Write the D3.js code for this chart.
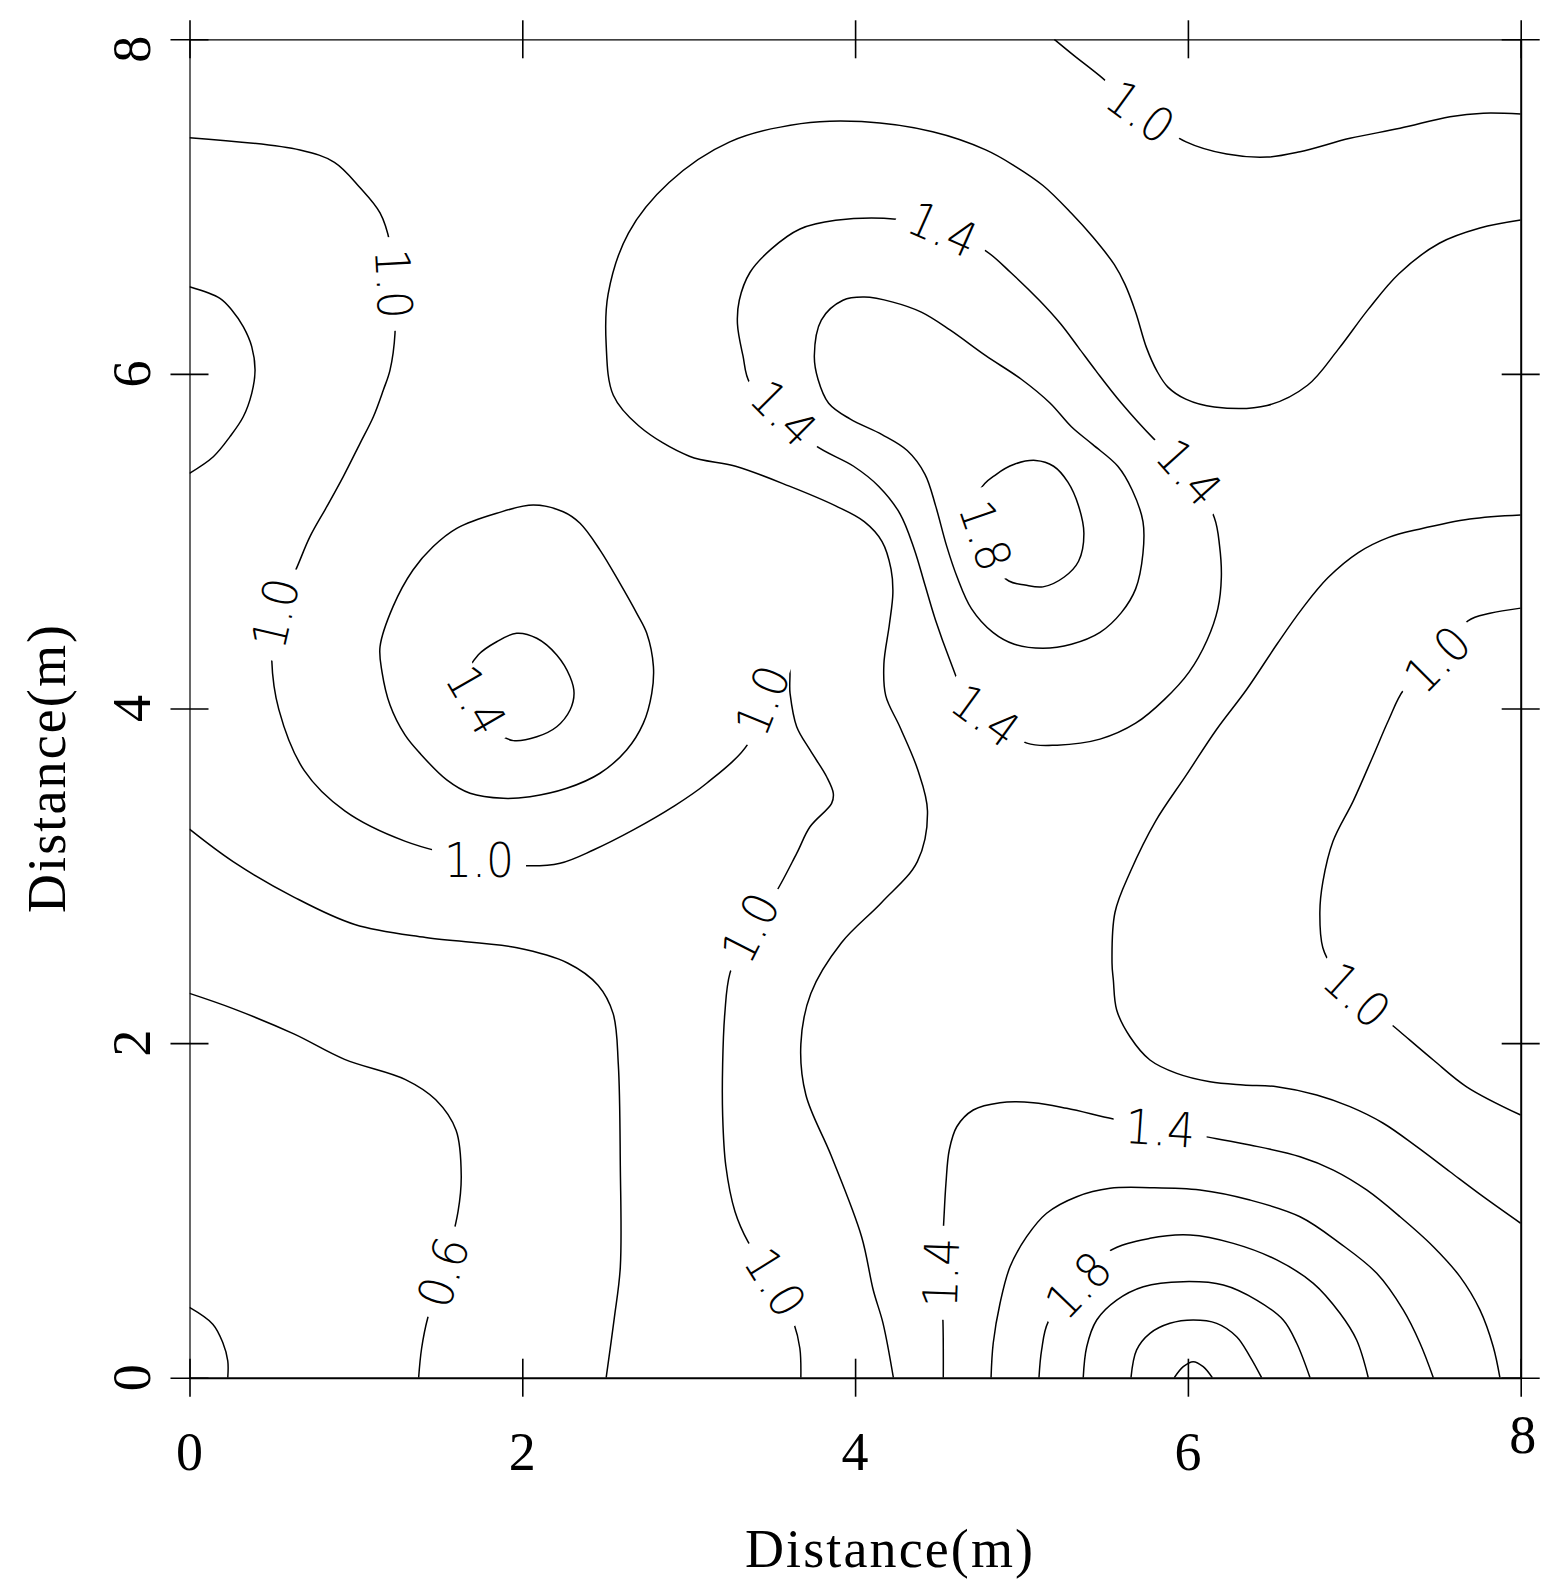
<!DOCTYPE html>
<html>
<head>
<meta charset="utf-8">
<script src="https://cdn.jsdelivr.net/npm/d3@7"></script>
<style>
  body { margin: 0; background: #fff; }
  .axis path, .axis line { stroke: #000; }
  .contour { fill: none; stroke: #000; stroke-width: 1.5; }
  .clabel { font-family: 'DejaVu Sans', sans-serif; font-weight: 200; font-size: 48px; fill: #000; }
  .tick-label { font-family: 'Liberation Serif', serif; font-size: 54px; fill: #000; }
  .axis-title { font-family: 'Liberation Serif', serif; font-size: 54px; fill: #000; }
</style>
</head>
<body>
<svg id="chart"></svg>
<script>
// tick values and titles
const xTicks = [0, 2, 4, 6, 8];
const yTicks = [0, 2, 4, 6, 8];
const xTitle = 'Distance(m)';
const yTitle = 'Distance(m)';

// contour lines, points as [x (m), y (m)]
const line04 = [[0,0.42],[0.14,0.32],[0.2,0.21],[0.23,0.1],[0.23,0]];
const line06 = [[0,2.297],[0.262,2.206],[0.627,2.055],[0.932,1.903],[1.298,1.782],[1.48,1.661],[1.602,1.479],[1.633,1.206],[1.614,0.994],[1.523,0.631],[1.432,0.358],[1.395,0.176],[1.377,0]];
const line08 = [[0,3.279],[0.262,3.085],[0.627,2.873],[0.993,2.709],[1.419,2.631],[1.968,2.57],[2.272,2.479],[2.455,2.346],[2.546,2.176],[2.577,1.873],[2.589,1.267],[2.589,0.661],[2.553,0.358],[2.504,0]];
const lineLeft = [[0,6.521],[0.183,6.452],[0.254,6.382],[0.323,6.282],[0.374,6.163],[0.394,6.023],[0.374,5.884],[0.323,5.744],[0.243,5.625],[0.143,5.505],[0,5.406]];
const line10a = [[0,7.412],[0.664,7.338],[0.871,7.265],[1.024,7.114],[1.145,6.962],[1.205,6.781],[1.229,6.538],[1.235,6.243],[1.205,6.023],[1.165,5.904],[1.105,5.744],[1.025,5.585],[0.924,5.386],[0.825,5.206],[0.724,5.027],[0.634,4.818],[0.514,4.571],[0.494,4.296],[0.537,3.993],[0.689,3.63],[0.933,3.388],[1.298,3.206],[1.74,3.094],[2.016,3.06],[2.227,3.075],[2.427,3.154],[2.667,3.274],[2.907,3.413],[3.108,3.553],[3.358,3.792],[3.441,4.05],[3.537,4.229],[3.599,4.27],[3.609,4.091],[3.649,3.891],[3.729,3.752],[3.829,3.592],[3.869,3.493],[3.859,3.433],[3.729,3.293],[3.649,3.134],[3.508,2.875],[3.368,2.691],[3.248,2.418],[3.217,2.176],[3.204,1.873],[3.204,1.57],[3.223,1.267],[3.278,0.994],[3.357,0.812],[3.522,0.57],[3.631,0.328],[3.668,0.176],[3.674,0]];
const line10b = [[5.197,8],[5.318,7.901],[5.471,7.781],[5.715,7.568],[5.989,7.387],[6.233,7.314],[6.476,7.296],[6.674,7.328],[6.974,7.408],[7.275,7.468],[7.575,7.537],[7.775,7.558],[8,7.553]];
const line10c = [[8,4.6],[7.815,4.569],[7.683,4.524],[7.497,4.296],[7.299,4.115],[7.207,3.933],[7.115,3.721],[6.994,3.448],[6.872,3.206],[6.811,2.963],[6.793,2.782],[6.811,2.57],[6.872,2.449],[7.016,2.288],[7.275,2.068],[7.475,1.899],[7.675,1.739],[8,1.57]];
const loop12 = [[1.145,4.369],[1.223,4.609],[1.343,4.828],[1.463,4.967],[1.606,5.077],[1.846,5.167],[2.066,5.216],[2.246,5.176],[2.347,5.107],[2.467,4.947],[2.587,4.748],[2.688,4.569],[2.748,4.45],[2.788,4.25],[2.778,4.091],[2.727,3.911],[2.627,3.752],[2.467,3.613],[2.267,3.523],[2.046,3.473],[1.886,3.463],[1.686,3.493],[1.546,3.573],[1.385,3.732],[1.295,3.842],[1.205,4.021],[1.157,4.218]];
const line12a = [[8,6.92],[7.755,6.872],[7.511,6.781],[7.268,6.599],[7.085,6.387],[6.902,6.145],[6.719,5.932],[6.476,5.811],[6.159,5.802],[5.987,5.849],[5.88,5.921],[5.815,6.015],[5.751,6.157],[5.686,6.369],[5.622,6.535],[5.558,6.653],[5.429,6.818],[5.3,6.96],[5.129,7.126],[4.957,7.244],[4.785,7.339],[4.466,7.447],[4.039,7.508],[3.674,7.496],[3.247,7.387],[2.882,7.144],[2.638,6.842],[2.516,6.478],[2.504,6.175],[2.547,5.872],[2.699,5.69],[3.004,5.508],[3.282,5.448],[3.605,5.329],[3.883,5.211],[4.055,5.117],[4.162,4.998],[4.216,4.833],[4.227,4.691],[4.206,4.502],[4.173,4.266],[4.184,4.077],[4.27,3.888],[4.377,3.632],[4.435,3.388],[4.374,3.085],[4.161,2.842],[3.918,2.6],[3.734,2.297],[3.674,1.994],[3.704,1.691],[3.856,1.328],[4.039,0.843],[4.109,0.524],[4.168,0.325],[4.23,0]];
const line12b = [[8,5.157],[7.694,5.133],[7.39,5.072],[7.207,5.023],[7.024,4.932],[6.841,4.781],[6.689,4.6],[6.537,4.387],[6.354,4.115],[6.171,3.873],[5.989,3.6],[5.806,3.327],[5.654,3.024],[5.562,2.782],[5.544,2.479],[5.552,2.377],[5.572,2.198],[5.652,2.038],[5.772,1.899],[5.933,1.819],[6.133,1.769],[6.333,1.75],[6.534,1.739],[6.774,1.69],[6.974,1.62],[7.174,1.521],[7.375,1.381],[7.575,1.231],[7.775,1.082],[8,0.923]];
const loop14a = [[1.736,4.321],[1.846,4.399],[1.966,4.45],[2.087,4.42],[2.207,4.32],[2.287,4.19],[2.311,4.091],[2.287,3.991],[2.207,3.891],[2.087,3.831],[1.946,3.808],[1.842,3.86],[1.78,3.93],[1.725,4.05],[1.67,4.2]];
const loop14b = [[3.572,5.766],[3.368,5.944],[3.326,6.109],[3.293,6.298],[3.304,6.44],[3.368,6.606],[3.497,6.747],[3.669,6.866],[3.883,6.918],[4.248,6.925],[4.528,6.866],[4.785,6.736],[4.935,6.606],[5.107,6.44],[5.236,6.298],[5.343,6.157],[5.45,6.015],[5.6,5.826],[5.794,5.613],[6.008,5.412],[6.159,5.14],[6.19,4.975],[6.201,4.786],[6.18,4.597],[6.115,4.408],[6.008,4.219],[5.858,4.053],[5.686,3.912],[5.472,3.817],[5.214,3.781],[5.032,3.793],[4.785,3.959],[4.645,4.112],[4.57,4.289],[4.484,4.526],[4.42,4.738],[4.356,4.951],[4.27,5.164],[4.141,5.329],[3.991,5.448],[3.755,5.577]];
const line14 = [[4.53,0],[4.528,0.335],[4.514,0.628],[4.53,0.883],[4.546,1.162],[4.566,1.361],[4.611,1.5],[4.71,1.6],[4.871,1.644],[5.071,1.644],[5.272,1.61],[5.552,1.546],[5.833,1.493],[6.103,1.441],[6.373,1.391],[6.674,1.321],[6.874,1.241],[7.074,1.122],[7.275,0.962],[7.475,0.783],[7.635,0.604],[7.755,0.405],[7.835,0.185],[7.875,0]];
const loop16 = [[3.755,6.109],[3.797,6.322],[3.927,6.44],[4.055,6.459],[4.227,6.429],[4.398,6.369],[4.57,6.263],[4.785,6.109],[4.999,5.968],[5.171,5.826],[5.3,5.684],[5.429,5.577],[5.579,5.448],[5.665,5.306],[5.73,5.117],[5.73,4.928],[5.686,4.715],[5.6,4.573],[5.472,4.455],[5.3,4.384],[5.129,4.36],[4.957,4.384],[4.828,4.455],[4.699,4.597],[4.613,4.786],[4.549,4.975],[4.484,5.211],[4.42,5.4],[4.313,5.542],[4.162,5.637],[3.969,5.731],[3.841,5.825],[3.777,5.968]];
const line16 = [[4.817,0],[4.83,0.206],[4.871,0.445],[4.931,0.663],[5.031,0.843],[5.151,0.983],[5.332,1.082],[5.532,1.132],[5.772,1.136],[6.073,1.122],[6.373,1.062],[6.674,0.962],[6.914,0.803],[7.135,0.624],[7.294,0.405],[7.395,0.206],[7.475,0]];
const loop18 = [[4.785,5.034],[4.753,5.305],[4.849,5.4],[4.957,5.46],[5.085,5.483],[5.193,5.448],[5.279,5.353],[5.343,5.211],[5.375,5.046],[5.343,4.88],[5.257,4.786],[5.129,4.727],[5.021,4.738],[4.924,4.762],[4.828,4.857]];
const line18 = [[5.105,0],[5.121,0.166],[5.161,0.335],[5.34,0.554],[5.522,0.753],[5.772,0.833],[6.013,0.853],[6.273,0.803],[6.534,0.704],[6.754,0.564],[6.914,0.385],[7.014,0.225],[7.084,0]];
const line20 = [[5.371,0],[5.392,0.185],[5.452,0.345],[5.572,0.464],[5.732,0.544],[5.972,0.574],[6.213,0.554],[6.413,0.464],[6.573,0.345],[6.654,0.206],[6.734,0]];
const line22 = [[5.658,0],[5.692,0.166],[5.772,0.265],[5.892,0.325],[6.032,0.345],[6.173,0.325],[6.293,0.245],[6.373,0.126],[6.443,0]];
const line24 = [[5.918,0],[5.972,0.066],[6.032,0.096],[6.092,0.066],[6.147,0]];

// contour labels: text, position (m) and direction of the text (deg)
const labelText = ['1.0','1.0','1.0','1.0','1.0','1.0','1.4','1.4','1.4','1.4','1.4','1.8','1.0','0.6','1.4','1.4','1.8','1.0','1.0'];
const labelX = [1.229,0.514,1.74,3.441,3.368,3.522,1.725,3.572,4.528,6.008,4.785,4.785,5.715,1.523,4.514,5.833,5.34,7.497,7.016];
const labelY = [6.538,4.571,3.094,4.05,2.691,0.57,4.05,5.766,6.866,5.412,3.959,5.034,7.568,0.631,0.628,1.493,0.554,4.296,2.288];
const labelAngle = [87,-77,0,-68,-63,58,60,45,24,48,36,71,36,-72,-88,4,-46,-45,42];

const contourLines = [
  {level: 0.4, closed: false, points: line04},
  {level: 0.6, closed: false, points: line06},
  {level: 0.8, closed: false, points: line08},
  {level: 0.8, closed: false, points: lineLeft},
  {level: 1.0, closed: false, points: line10a},
  {level: 1.0, closed: false, points: line10b},
  {level: 1.0, closed: false, points: line10c},
  {level: 1.2, closed: true, points: loop12},
  {level: 1.2, closed: false, points: line12a},
  {level: 1.2, closed: false, points: line12b},
  {level: 1.4, closed: true, points: loop14a},
  {level: 1.4, closed: true, points: loop14b},
  {level: 1.4, closed: false, points: line14},
  {level: 1.6, closed: true, points: loop16},
  {level: 1.6, closed: false, points: line16},
  {level: 1.8, closed: true, points: loop18},
  {level: 1.8, closed: false, points: line18},
  {level: 2.0, closed: false, points: line20},
  {level: 2.2, closed: false, points: line22},
  {level: 2.4, closed: false, points: line24}
];
const contourLabels = labelText.map((t, i) => ({text: t, x: labelX[i], y: labelY[i], angle: labelAngle[i]}));

class ContourChart {

  constructor(_config, _lines, _labels) {
    this.config = {
      parentElement: _config.parentElement,
      containerWidth: _config.containerWidth || 1556,
      containerHeight: _config.containerHeight || 1589,
      margin: _config.margin || {top: 39.3, right: 35.3, bottom: 211.3, left: 189.5},
      tickLength: 19
    }
    this.lines = _lines;
    this.labels = _labels;
    this.initVis();
  }

  initVis() {
    let vis = this;

    vis.width = vis.config.containerWidth - vis.config.margin.left - vis.config.margin.right;
    vis.height = vis.config.containerHeight - vis.config.margin.top - vis.config.margin.bottom;

    vis.xScale = d3.scaleLinear().domain([0, 8]).range([0, vis.width]);
    vis.yScale = d3.scaleLinear().domain([0, 8]).range([vis.height, 0]);

    vis.svg = d3.select(vis.config.parentElement)
        .attr('width', vis.config.containerWidth)
        .attr('height', vis.config.containerHeight);

    vis.svg.append('rect')
        .attr('width', vis.config.containerWidth)
        .attr('height', vis.config.containerHeight)
        .attr('fill', '#fff');

    vis.chart = vis.svg.append('g')
        .attr('transform', `translate(${vis.config.margin.left},${vis.config.margin.top})`);

    vis.chart.append('clipPath').attr('id', 'plot-clip')
      .append('rect')
        .attr('width', vis.width)
        .attr('height', vis.height);

    vis.contourG = vis.chart.append('g').attr('clip-path', 'url(#plot-clip)');
    vis.labelG = vis.chart.append('g');
    vis.axisG = vis.chart.append('g');

    vis.renderVis();
  }

  renderVis() {
    let vis = this;
    const t = vis.config.tickLength;

    const lineOpen = d3.line()
        .x(d => vis.xScale(d[0]))
        .y(d => vis.yScale(d[1]))
        .curve(d3.curveCatmullRom.alpha(0.5));
    const lineClosed = d3.line()
        .x(d => vis.xScale(d[0]))
        .y(d => vis.yScale(d[1]))
        .curve(d3.curveCatmullRomClosed.alpha(0.5));

    vis.contourG.selectAll('.contour')
        .data(vis.lines)
      .join('path')
        .attr('class', 'contour')
        .attr('d', d => (d.closed ? lineClosed : lineOpen)(d.points));

    // labels sit on the line with a white gap behind them
    const lab = vis.labelG.selectAll('.clabel-g')
        .data(vis.labels)
      .join('g')
        .attr('class', 'clabel-g')
        .attr('transform', d => `translate(${vis.xScale(d.x)},${vis.yScale(d.y)}) rotate(${d.angle})`);
    lab.append('rect')
        .attr('x', -47).attr('y', -15)
        .attr('width', 94).attr('height', 30)
        .attr('fill', '#fff');
    lab.append('text')
        .attr('class', 'clabel')
        .attr('text-anchor', 'middle')
        .attr('dy', '0.36em')
        .attr('textLength', 70)
        .attr('lengthAdjust', 'spacingAndGlyphs')
        .text(d => d.text);

    // four framed axes with ticks crossing the frame
    const bottom = vis.axisG.append('g').attr('class', 'axis')
        .attr('transform', `translate(0,${vis.height})`)
        .call(d3.axisBottom(vis.xScale).tickValues(xTicks).tickSize(t).tickSizeOuter(0).tickFormat(''));
    bottom.selectAll('.tick line').attr('y1', -t);

    const top = vis.axisG.append('g').attr('class', 'axis')
        .call(d3.axisTop(vis.xScale).tickValues(xTicks).tickSize(t).tickSizeOuter(0).tickFormat(''));
    top.selectAll('.tick line').attr('y1', t);

    const left = vis.axisG.append('g').attr('class', 'axis')
        .call(d3.axisLeft(vis.yScale).tickValues(yTicks).tickSize(t).tickSizeOuter(0).tickFormat(''));
    left.selectAll('.tick line').attr('x1', t);

    const right = vis.axisG.append('g').attr('class', 'axis')
        .attr('transform', `translate(${vis.width},0)`)
        .call(d3.axisRight(vis.yScale).tickValues(yTicks).tickSize(t).tickSizeOuter(0).tickFormat(''));
    right.selectAll('.tick line').attr('x1', -t);

    bottom.select('.domain').attr('stroke-width', 2);
    right.select('.domain').attr('stroke-width', 2);
    top.select('.domain').attr('stroke-width', 1.2);
    left.select('.domain').attr('stroke-width', 1.2);
    vis.axisG.selectAll('.tick line').attr('stroke-width', 1.6);

    vis.axisG.selectAll('.x-tick-label')
        .data(xTicks)
      .join('text')
        .attr('class', 'tick-label x-tick-label')
        .attr('text-anchor', 'middle')
        .attr('x', d => vis.xScale(d) + (d === 8 ? 2 : 0))
        .attr('y', d => vis.height + (d === 8 ? 75 : 92))
        .text(d => d);

    vis.axisG.selectAll('.y-tick-label')
        .data(yTicks)
      .join('text')
        .attr('class', 'tick-label y-tick-label')
        .attr('text-anchor', 'middle')
        .attr('transform', d => `translate(-39.5,${vis.yScale(d) + (d === 8 ? 10 : 0)}) rotate(-90)`)
        .text(d => d);

    vis.svg.append('text')
        .attr('class', 'axis-title')
        .attr('x', 889)
        .attr('y', 1567)
        .attr('text-anchor', 'middle')
        .attr('textLength', 288)
        .attr('lengthAdjust', 'spacing')
        .text(xTitle);

    vis.svg.append('text')
        .attr('class', 'axis-title')
        .attr('transform', 'translate(65,769) rotate(-90)')
        .attr('text-anchor', 'middle')
        .attr('textLength', 288)
        .attr('lengthAdjust', 'spacing')
        .text(yTitle);
  }
}

new ContourChart({parentElement: '#chart'}, contourLines, contourLabels);
</script>
</body>
</html>
